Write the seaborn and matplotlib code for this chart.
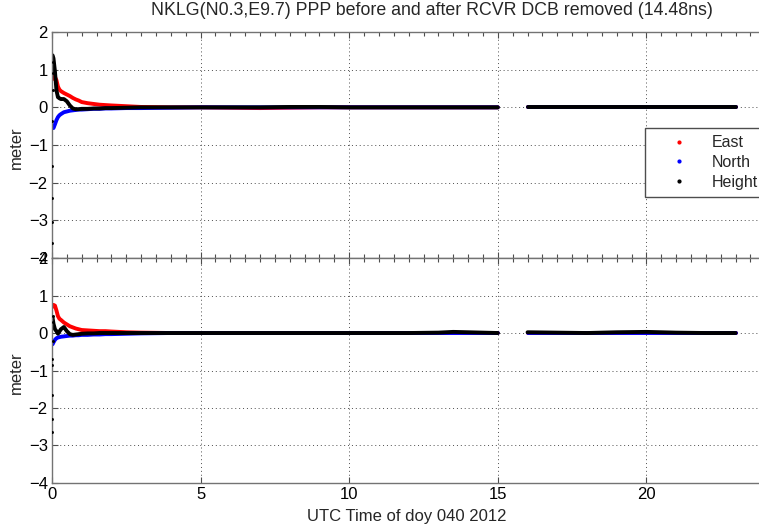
import matplotlib
matplotlib.use("Agg")
import matplotlib.pyplot as plt
from matplotlib.lines import Line2D
from matplotlib.ticker import MultipleLocator
import pandas as pd
import seaborn as sns

# ---------------------------------------------------------------------------
# PPP position offsets (meter) for station NKLG, day 040 of 2012
# ---------------------------------------------------------------------------
components = ["East", "North", "Height"]
component_colors = ["#ff0000", "#0000ff", "#000000"]

# UTC hours of the solution epochs (data gap between 15 h and 16 h)
hours = [0.02, 0.05, 0.10, 0.15, 0.20, 0.25, 0.30, 0.40, 0.50, 0.60, 0.70, 0.80, 0.90, 1.00,
         1.20, 1.40, 1.60, 1.80, 2.00,
         2.50, 3.00, 4.00, 5.00, 6.00, 7.00, 8.00, 9.00, 10.0, 11.0, 12.0, 13.0, 13.5, 14.0, 15.0,
         16.0, 17.0, 18.0, 19.0, 20.0, 21.0, 22.0, 23.0]
gap_start = 15.5

# Before the receiver DCB is removed
east_before = [0.75, 0.82, 0.80, 0.72, 0.55, 0.47, 0.43, 0.38, 0.34, 0.30, 0.25, 0.21, 0.18, 0.14,
               0.11, 0.09, 0.07, 0.06, 0.05,
               0.03, 0.01, 0.00, 0.00, -0.01, -0.02, -0.01, 0.00, 0.00, 0.00, 0.00, 0.00, 0.00, 0.00, 0.00,
               0.00, 0.00, 0.00, 0.00, 0.00, 0.00, 0.00, 0.00]
north_before = [-0.50, -0.55, -0.45, -0.34, -0.26, -0.21, -0.18, -0.13, -0.11, -0.09, -0.08, -0.07, -0.06, -0.06,
                -0.05, -0.04, -0.04, -0.03, -0.03,
                -0.02, -0.02, -0.01, 0.00, 0.00, 0.00, 0.00, 0.00, 0.00, 0.00, 0.00, 0.00, 0.00, 0.00, 0.00,
                0.00, 0.00, 0.00, 0.00, 0.00, 0.00, 0.00, 0.00]
height_before = [1.38, 1.30, 0.95, 0.45, 0.27, 0.24, 0.22, 0.22, 0.16, 0.05, -0.03, -0.05, -0.05, -0.04,
                 -0.04, -0.03, -0.03, -0.02, -0.02,
                 -0.01, 0.00, 0.00, 0.00, 0.00, 0.00, 0.01, 0.01, 0.00, 0.00, 0.00, 0.00, 0.00, 0.00, 0.00,
                 0.00, 0.00, 0.00, 0.00, 0.00, 0.00, 0.00, 0.00]

# After the receiver DCB is removed
east_after = [0.70, 0.75, 0.73, 0.60, 0.45, 0.38, 0.35, 0.28, 0.23, 0.18, 0.15, 0.12, 0.10, 0.08,
              0.07, 0.06, 0.05, 0.05, 0.04,
              0.02, 0.01, 0.00, 0.00, 0.00, 0.00, 0.00, 0.00, 0.00, 0.00, 0.00, 0.00, 0.00, 0.00, 0.00,
              0.00, 0.00, 0.00, 0.00, 0.00, 0.00, 0.00, 0.00]
north_after = [-0.30, -0.25, -0.18, -0.14, -0.12, -0.11, -0.10, -0.09, -0.08, -0.07, -0.07, -0.06, -0.06, -0.05,
               -0.05, -0.04, -0.04, -0.03, -0.03,
               -0.02, -0.01, 0.00, 0.00, 0.00, 0.00, 0.00, 0.00, 0.00, 0.00, 0.00, 0.00, 0.00, 0.00, 0.00,
               0.00, 0.00, 0.00, 0.00, 0.00, 0.00, 0.00, 0.00]
height_after = [0.40, 0.25, 0.10, 0.05, -0.02, 0.04, 0.10, 0.16, 0.05, -0.03, -0.05, -0.04, -0.03, -0.02,
                -0.01, -0.01, 0.00, 0.00, 0.00,
                0.00, 0.00, 0.00, 0.00, 0.00, 0.00, 0.00, 0.00, 0.00, 0.00, 0.00, 0.01, 0.03, 0.02, 0.00,
                0.02, 0.01, 0.00, 0.02, 0.03, 0.01, 0.00, 0.00]

# First epochs of the height solution, before the filter settles
first_epoch_hours = [0.000, 0.004, 0.008, 0.012, 0.016, 0.020, 0.024, 0.028]
first_height_before = [-3.60, -3.05, -2.40, -1.55, -0.35, 0.45, 0.90, 1.20]
first_height_after = [-2.63, -2.30, -1.65, -0.85, -0.70, -0.20, 0.30, 0.45]

title = "NKLG(N0.3,E9.7) PPP before and after RCVR DCB removed (14.48ns)"
xlabel = "UTC Time of doy 040 2012"
ylabel = "meter"
x_ticks = [0, 5, 10, 15, 20]
y_ticks = [-4, -3, -2, -1, 0, 1, 2]


def long_table(east, north, height):
    rows = []
    for name, values in zip(components, [east, north, height]):
        for h, v in zip(hours, values):
            rows.append({"hours": h, "value": v, "component": name,
                         "segment": 0 if h < gap_start else 1})
    return pd.DataFrame(rows)


sns.set_theme(style="white")
plt.rcParams["font.family"] = ["Liberation Sans", "DejaVu Sans"]
plt.rcParams["font.size"] = 12

fig = plt.figure(figsize=(7.59, 5.27), dpi=100)
ax_top = fig.add_axes([0.0685, 0.5104, 0.979, 0.4289])
ax_bot = fig.add_axes([0.0685, 0.0835, 0.979, 0.4269])

panels = [
    (ax_top, long_table(east_before, north_before, height_before), first_height_before),
    (ax_bot, long_table(east_after, north_after, height_after), first_height_after),
]

palette = dict(zip(components, component_colors))

for ax, df, first_h in panels:
    sns.lineplot(data=df, x="hours", y="value", hue="component", hue_order=components,
                 units="segment", estimator=None, sort=False, palette=palette,
                 linewidth=2.8, legend=False, ax=ax)
    sns.scatterplot(x=first_epoch_hours, y=first_h, color="black", marker=".",
                    s=18, linewidth=0, ax=ax, zorder=5)

    ax.set_xlim(0, 25)
    ax.set_ylim(-4, 2)
    ax.set_xticks(x_ticks)
    ax.set_yticks(y_ticks)
    ax.xaxis.set_minor_locator(MultipleLocator(0.5))
    ax.grid(True, which="major", linestyle=(0, (1, 3)), color="0.3", linewidth=0.7)
    ax.set_xlabel("")
    ax.set_ylabel(ylabel, fontsize=12)
    for sp in ax.spines.values():
        sp.set_color("0.45")
        sp.set_linewidth(1.0)
    ax.tick_params(axis="both", which="major", direction="in", length=4, width=0.8,
                   colors="0.3", labelcolor="black", labelsize=12, pad=3,
                   top=True, bottom=True, left=True)
    ax.tick_params(axis="x", which="minor", direction="in", length=3, width=0.8,
                   colors="0.3", top=True, bottom=False)
    ax.set_axisbelow(True)

ax_top.tick_params(axis="x", which="major", labelbottom=False)
ax_top.tick_params(axis="x", which="minor", bottom=True)
ax_top.yaxis.set_label_coords(-0.038, 0.49)
ax_bot.yaxis.set_label_coords(-0.038, 0.49)

fig.text(432 / 759, 1 - 10.5 / 527, title, ha="center", va="center", fontsize=12.8)
fig.text(407 / 759, 1 - 516 / 527, xlabel, ha="center", va="center", fontsize=12)

handles = [Line2D([], [], linestyle="none", marker=".", markersize=4, color=c)
           for c in component_colors]
leg = ax_top.legend(handles, components, loc="upper left",
                    bbox_to_anchor=(645 / 759, 1 - 128 / 527), bbox_transform=fig.transFigure,
                    borderaxespad=0, fontsize=11.5, frameon=True, fancybox=False,
                    borderpad=0.45, handlelength=3.4, handletextpad=0.3, labelspacing=0.3)
leg.get_frame().set_edgecolor("0.3")
leg.get_frame().set_linewidth(1.0)
leg.get_frame().set_facecolor("white")
leg.get_frame().set_alpha(1)

fig.savefig("out.png", dpi=100)
